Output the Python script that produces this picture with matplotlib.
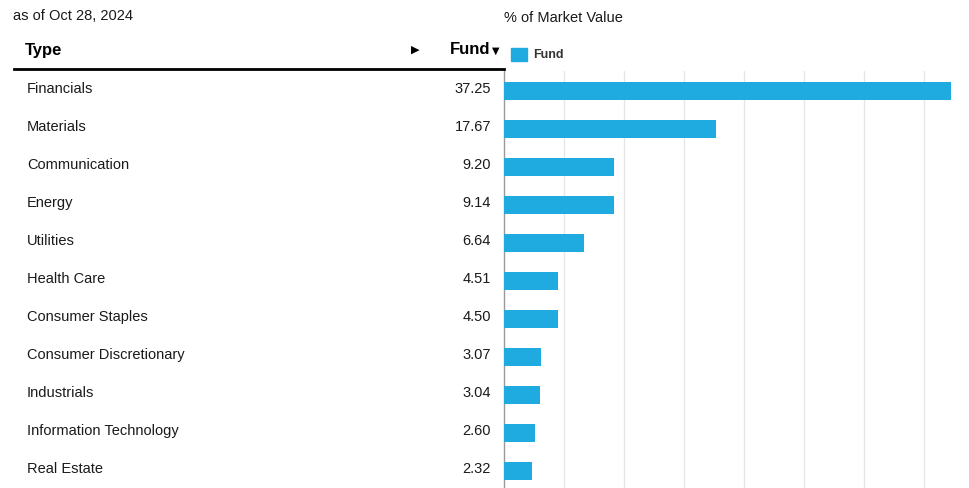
import matplotlib
matplotlib.use('Agg')
import matplotlib.pyplot as plt
import matplotlib.transforms as mtrans
from matplotlib.patches import Rectangle

plt.rcParams['font.family'] = ['Liberation Sans', 'DejaVu Sans']

sectors = ['Financials', 'Materials', 'Communication', 'Energy', 'Utilities',
           'Health Care', 'Consumer Staples', 'Consumer Discretionary',
           'Industrials', 'Information Technology', 'Real Estate']
fund = [37.25, 17.67, 9.20, 9.14, 6.64, 4.51, 4.50, 3.07, 3.04, 2.60, 2.32]
as_of = 'as of Oct 28, 2024'

W, H = 969, 488
bar_color = '#1fabe0'
head_font = ['Liberation Sans Narrow', 'Liberation Sans', 'DejaVu Sans']

fig = plt.figure(figsize=(W/100, H/100), dpi=100)
ax = fig.add_axes([504/W, 0, 1 - 504/W, 1 - 71/H])

pos = list(range(len(sectors)))
ax.barh(pos, fund, height=0.47, color=bar_color, zorder=3)
ax.set_xlim(0, 38.75)
ax.set_ylim(10.45, -0.526)
ax.set_xticks([5, 10, 15, 20, 25, 30, 35])
ax.grid(axis='x', color='#e6e6e6', lw=1, zorder=0)
ax.set_yticks([])
ax.tick_params(axis='x', length=0, labelbottom=False)
for s in ['top', 'right', 'bottom']:
    ax.spines[s].set_visible(False)
ax.spines['left'].set_color('#999999')
ax.spines['left'].set_linewidth(1)

# table part on the left
tr = mtrans.blended_transform_factory(fig.transFigure, ax.transData)
for i, (name, v) in enumerate(zip(sectors, fund)):
    fig.text(27/W, i - 0.05, name, transform=tr, fontsize=10.5, color='#1a1a1a',
             va='center', ha='left')
    fig.text(491/W, i - 0.05, '%.2f' % v, transform=tr, fontsize=10.5, color='#1a1a1a',
             va='center', ha='right')

fig.text(13/W, 1 - 16/H, as_of, fontsize=10.5, color='#1a1a1a', va='center')
fig.text(504/W, 1 - 18/H, '% of Market Value', fontsize=10.5, color='#1a1a1a', va='center')
fig.text(25/W, 1 - 50/H, 'Type', fontsize=12, fontweight='bold', color='black', va='center',
         family=head_font)
fig.text(415/W, 1 - 50/H, '\u25b6', fontsize=8, color='black', va='center', ha='center',
         family='DejaVu Sans')
fig.text(490/W, 1 - 50/H, 'Fund', fontsize=12, fontweight='bold', color='black',
         va='center', ha='right', family=head_font)
fig.text(496/W, 1 - 51/H, '\u25bc', fontsize=7, color='black', va='center', ha='center',
         family='DejaVu Sans')

# header underline
fig.add_artist(plt.Line2D([14/W, 504/W], [1 - 69/H, 1 - 69/H], color='black', lw=2))

# legend
fig.add_artist(Rectangle((511/W, 1 - 61/H), 16/W, 13/H, color=bar_color, transform=fig.transFigure))
fig.text(533/W, 1 - 55/H, 'Fund', fontsize=9, fontweight='bold', color='#333333', va='center')

fig.savefig('out.png', dpi=100)
